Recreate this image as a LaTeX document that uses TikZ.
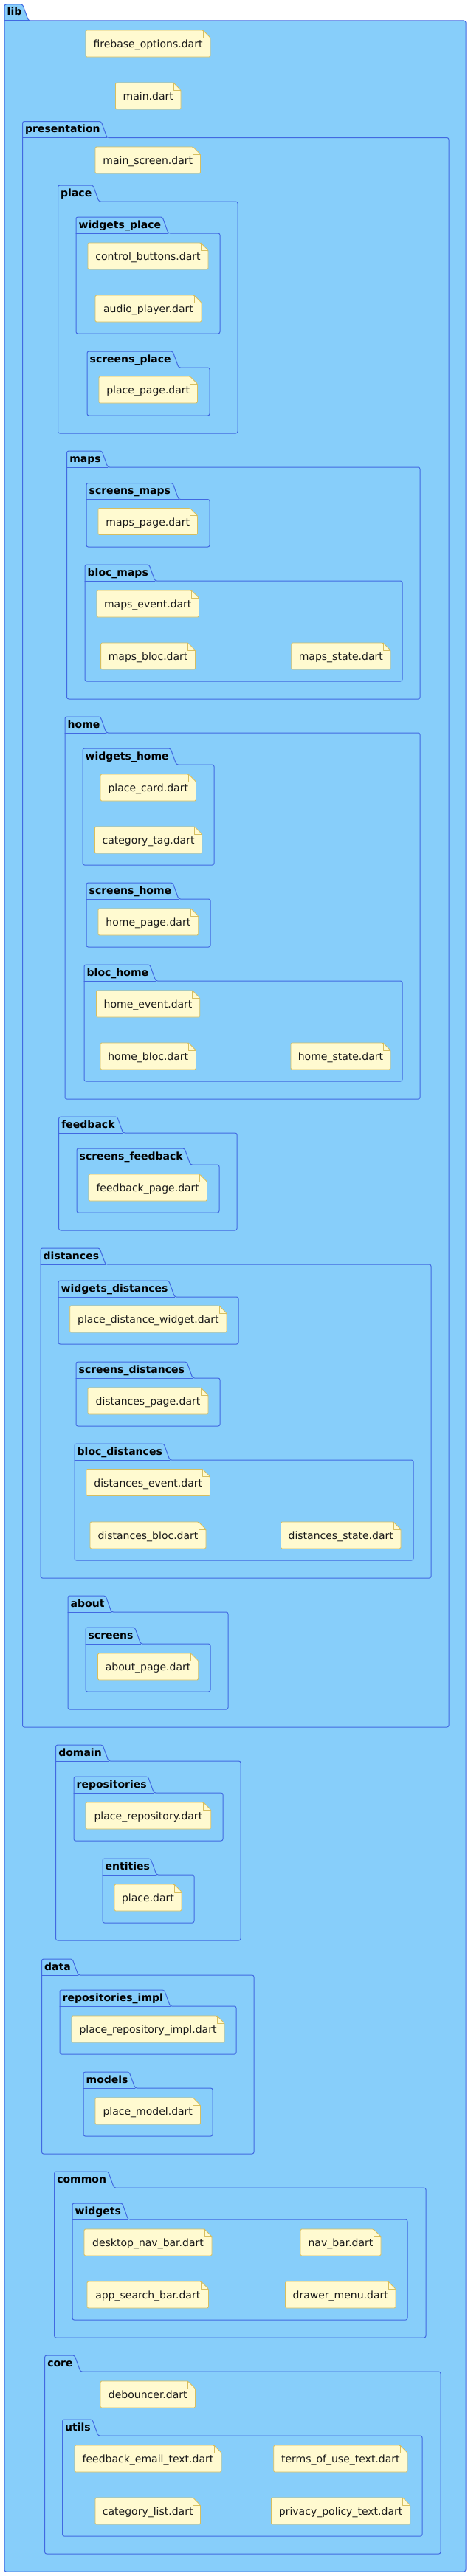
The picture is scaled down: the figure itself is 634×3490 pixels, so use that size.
\documentclass[tikz,border=0pt]{standalone}
\usepackage{fontspec}
\setmainfont{DejaVu Sans}
\definecolor{pkgfill}{RGB}{135,206,250}
\definecolor{pkgline}{RGB}{65,105,225}
\definecolor{notefill}{RGB}{255,250,208}
\definecolor{noteline}{RGB}{214,190,95}
\begin{document}
\begin{tikzpicture}[x=1pt, y=-1pt, line join=round, line cap=round,
	pkgbox/.style={draw=pkgline, fill=pkgfill, line width=1pt, rounded corners=2.5pt},
	pkgtitle/.style={anchor=base west, inner sep=0pt, font=\bfseries\fontsize{14}{16}\selectfont},
	notebox/.style={draw=noteline, fill=notefill, line width=0.8pt, rounded corners=1.5pt},
	notetext/.style={anchor=base, inner sep=0pt, font=\fontsize{14}{16}\selectfont, text=black!90}]
	% Khung trang
	\useasboundingbox (0,0) rectangle (634,3490);
	
	% Chiều cao của tab gói
	\def\tabh{22}
	
	% Các gói (tên/trái/đỉnh tab/phải tab/phải/đáy/nhãn), từ ngoài vào trong
	\foreach \nm/\xa/\ya/\xt/\xb/\yb/\lbl in {
		lib/6/6/38.6/631/3484/lib,
		presentation/30.5/164.5/145/608/2340/presentation,
		place/78.5/251/134/322/587/place,
		widgetsplace/103/294/228/298/452/widgets\_place,
		screensplace/118/476/242/284/563/screens\_place,
		maps/90.6/611/146/569/947/maps,
		screensmaps/117/654.5/242/284/741/screens\_maps,
		blocmaps/115/765/210/545/923/bloc\_maps,
		home/88/971/144/569/1489/home,
		widgetshome/112/1014/239/290/1172/widgets\_home,
		screenshome/117/1196/242/285/1283/screens\_home,
		blochome/114/1307/211/545/1465/bloc\_home,
		feedback/79.7/1513/166.7/321/1667/feedback,
		screensfeedback/104/1556/258/297/1643/screens\_feedback,
		distances/55/1691/143/584/2138/distances,
		widgetsdistances/79/1735/236.6/323/1821/widgets\_distances,
		screensdistances/103/1845/261/298/1932/screens\_distances,
		blocdistances/101/1956/230/560/2114/bloc\_distances,
		about/92/2162/151/309/2316/about,
		screens/116/2205/190.6/285/2292/screens,
		domain/75.6/2364/147/326/2629/domain,
		repositories/100/2407/208.5/302/2494/repositories,
		entities/139/2518/212/263/2605/entities,
		data/56.5/2654/106/344/2918/data,
		repositoriesimpl/81/2696/230.5/320/2783/repositories\_impl,
		models/113/2807/183/288/2894/models,
		common/73.6/2942/154.5/577/3167/common,
		widgets/98/2985/173.6/552/3143/widgets,
		core/60.6/3191/109/597/3460/core,
		utils/84.5/3278/133/572/3436/utils}
	{
		\draw[pkgbox] (\xa,\ya+\tabh) -- (\xa,\ya) -- (\xt-8,\ya) -- (\xt,\ya+\tabh)
			-- (\xb,\ya+\tabh) -- (\xb,\yb) -- (\xa,\yb) -- cycle;
		\draw[pkgline, line width=1pt] (\xa,\ya+\tabh) -- (\xt,\ya+\tabh);
		\node[pkgtitle] (\nm) at (\xa+3.5,\ya+15) {\lbl};
	}
	
	% Các tệp (tên/trái/đỉnh/phải/nội dung)
	\foreach \nm/\xa/\ya/\xb/\txt in {
		firebaseopt/116/41/285/firebase\_options.dart,
		maindart/156.5/112/245/main.dart,
		mainscreen/129/199/271.5/main\_screen.dart,
		controlbtn/119/329/282/control\_buttons.dart,
		audioplayer/129/400/273/audio\_player.dart,
		placepage/134/510/267.5/place\_page.dart,
		mapspage/133/688.5/267.5/maps\_page.dart,
		mapsevent/131/800/269.5/maps\_event.dart,
		mapsbloc/136.6/871/264.6/maps\_bloc.dart,
		mapsstate/394.7/871/529/maps\_state.dart,
		placecard/136/1049/265.5/place\_card.dart,
		categorytag/128.5/1120/273.6/category\_tag.dart,
		homepage/133/1231/268.7/home\_page.dart,
		homeevent/130.5/1342/270.7/home\_event.dart,
		homebloc/136/1413/265.5/home\_bloc.dart,
		homestate/394/1413/529/home\_state.dart,
		feedbackpage/120/1591/280.5/feedback\_page.dart,
		placedistw/94.7/1769/307/place\_distance\_widget.dart,
		distpage/119/1880/282/distances\_page.dart,
		distevent/117/1990.5/284.5/distances\_event.dart,
		distbloc/122/2062/279/distances\_bloc.dart,
		diststate/380.5/2062/543/distances\_state.dart,
		aboutpage/132.5/2240/268.7/about\_page.dart,
		placerepo/116/2442/285.8/place\_repository.dart,
		placedart/155/2553/246/place.dart,
		placerepoimpl/97/2731/304/place\_repository\_impl.dart,
		placemodel/129/2842/271.5/place\_model.dart,
		desktopnav/114/3020/287/desktop\_nav\_bar.dart,
		navbar/407/3020/516/nav\_bar.dart,
		appsearch/118/3091/282.5/app\_search\_bar.dart,
		drawermenu/386.6/3091/536/drawer\_menu.dart,
		debouncer/136/3226/264.6/debouncer.dart,
		feedbackemail/101/3313/300/feedback\_email\_text.dart,
		termsofuse/370.7/3313/552/terms\_of\_use\_text.dart,
		categorylist/129/3384/271.5/category\_list.dart,
		privacypolicy/367.5/3384/555.7/privacy\_policy\_text.dart}
	{
		\draw[notebox] (\xa,\ya) -- (\xb-10,\ya) -- (\xb,\ya+10) -- (\xb,\ya+36) -- (\xa,\ya+36) -- cycle;
		\draw[noteline, line width=0.8pt] (\xb-10,\ya) -- (\xb-10,\ya+10) -- (\xb,\ya+10);
		\node[notetext] (\nm) at ({(\xa+\xb)/2},\ya+23.5) {\txt};
	}
\end{tikzpicture}
\end{document}
